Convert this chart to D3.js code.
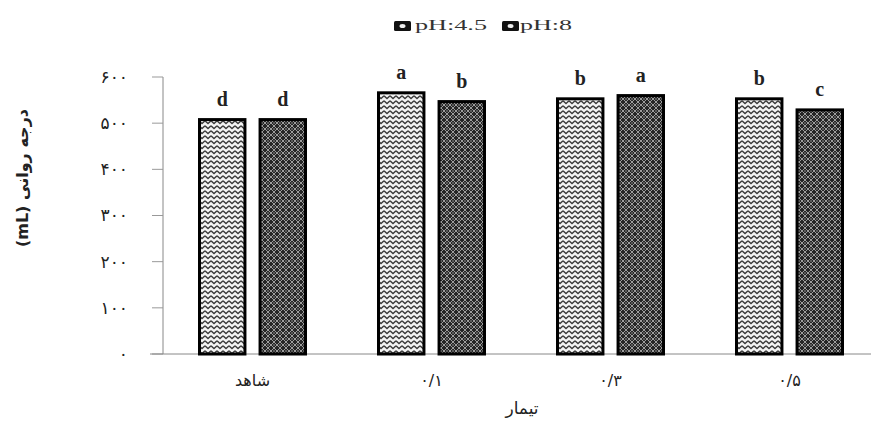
<!DOCTYPE html>
<html><head><meta charset="utf-8">
<script src="https://cdn.jsdelivr.net/npm/d3@7"></script>
<style>body{margin:0;background:#fff}</style></head>
<body><svg id="c" width="871" height="423"></svg>
<script>
const categories = ["شاهد", "۰/۱", "۰/۳", "۰/۵"];
const seriesNames = ["pH:4.5", "pH:8"];
const ph45 = [511, 569, 556, 556];
const ph8 = [511, 550, 563, 532];
const letters45 = ["d", "a", "b", "b"];
const letters8 = ["d", "b", "a", "c"];
const yTicks = [0, 100, 200, 300, 400, 500, 600];
const yTickLabels = ["۰", "۱۰۰", "۲۰۰", "۳۰۰", "۴۰۰", "۵۰۰", "۶۰۰"];

const svg = d3.select("#c");
const defs = svg.append("defs");
// light zigzag pattern
const p1 = defs.append("pattern").attr("id","p1").attr("patternUnits","userSpaceOnUse").attr("width",6).attr("height",5);
p1.append("rect").attr("width",6).attr("height",5).attr("fill","#f4f4f4");
p1.append("path").attr("d","M0,0.8 L3,3.6 L6,0.8").attr("stroke","#3a3a3a").attr("stroke-width",1.3).attr("fill","none");
// dark lattice pattern
const p2 = defs.append("pattern").attr("id","p2").attr("patternUnits","userSpaceOnUse").attr("width",6).attr("height",6);
p2.append("rect").attr("width",6).attr("height",6).attr("fill","#262626");
p2.append("path").attr("d","M0,3 L3,0 L6,3 L3,6 Z").attr("stroke","#aaa").attr("stroke-width",0.9).attr("fill","none");
p2.append("circle").attr("cx",3).attr("cy",3).attr("r",0.8).attr("fill","#999");

const x0 = d3.scaleBand().domain(categories).range([163, 879]).paddingInner(0).paddingOuter(0);
const innerPad = 35;
const x1 = d3.scaleBand().domain(seriesNames).range([innerPad, x0.bandwidth()-innerPad]).paddingInner(0.2);
const y = d3.scaleLinear().domain([0, 600]).range([354, 77]);

// y axis
svg.append("line").attr("x1",163).attr("x2",163).attr("y1",y(600)).attr("y2",y(0)).attr("stroke","#888").attr("stroke-width",1);
yTicks.forEach((t,i)=>{
  svg.append("line").attr("x1",152).attr("x2",163).attr("y1",y(t)).attr("y2",y(t)).attr("stroke","#999");
  svg.append("text").attr("x",128).attr("y",y(t)).attr("dy","0.35em").attr("text-anchor","end")
    .attr("font-family","DejaVu Sans").attr("font-size",17).attr("letter-spacing",3).attr("fill","#222").text(yTickLabels[i]);
});
// x axis
svg.append("line").attr("x1",150).attr("x2",871).attr("y1",y(0)).attr("y2",y(0)).attr("stroke","#888");

const data = categories.map((c,i)=>({c, vals:[{s:seriesNames[0],v:ph45[i],l:letters45[i]},{s:seriesNames[1],v:ph8[i],l:letters8[i]}]}));
const g = svg.selectAll("g.grp").data(data).enter().append("g").attr("transform",d=>`translate(${x0(d.c)},0)`);
g.selectAll("rect").data(d=>d.vals).enter().append("rect")
  .attr("x",d=>x1(d.s)+1.5).attr("width",x1.bandwidth()-3)
  .attr("y",d=>y(d.v)+1.5).attr("height",d=>y(0)-y(d.v)-1.5)
  .attr("fill",(d,i)=>i===0?"url(#p1)":"url(#p2)").attr("stroke","#000").attr("stroke-width",3);
g.selectAll("text.l").data(d=>d.vals).enter().append("text")
  .attr("x",d=>x1(d.s)+x1.bandwidth()/2).attr("y",d=>y(d.v)-12).attr("text-anchor","middle")
  .attr("font-family","Liberation Serif").attr("font-size",20).attr("font-weight","bold").attr("fill","#222").text(d=>d.l);
g.append("text").attr("x",x0.bandwidth()/2).attr("y",386).attr("text-anchor","middle")
  .attr("font-family","DejaVu Sans").attr("font-size",16).attr("letter-spacing",1).attr("fill","#222").text(d=>d.c);

// axis titles
svg.append("text").attr("x",522).attr("y",414).attr("text-anchor","middle").attr("font-family","DejaVu Sans").attr("font-size",17).attr("fill","#222").text("تیمار");
svg.append("text").attr("transform","translate(22,178) rotate(-90)").attr("text-anchor","middle").attr("dy","0.35em")
  .attr("font-family","DejaVu Sans").attr("font-size",16).attr("font-weight","bold").attr("fill","#222").text("(mL) درجه روانی");

// legend
const leg = [{x:394,tx:415,w:72,s:seriesNames[0]},{x:502,tx:520,w:52,s:seriesNames[1]}];
leg.forEach(d=>{
  svg.append("rect").attr("x",d.x).attr("y",21).attr("width",17).attr("height",10).attr("rx",1.5).attr("fill","#111");
  svg.append("ellipse").attr("cx",d.x+8.5).attr("cy",26).attr("rx",3).attr("ry",2).attr("fill","#eee");
  svg.append("text").attr("x",d.tx).attr("y",30).attr("font-family","Liberation Serif").attr("font-size",15)
    .attr("textLength",d.w).attr("lengthAdjust","spacingAndGlyphs").attr("fill","#333").text(d.s);
});
</script></body></html>
